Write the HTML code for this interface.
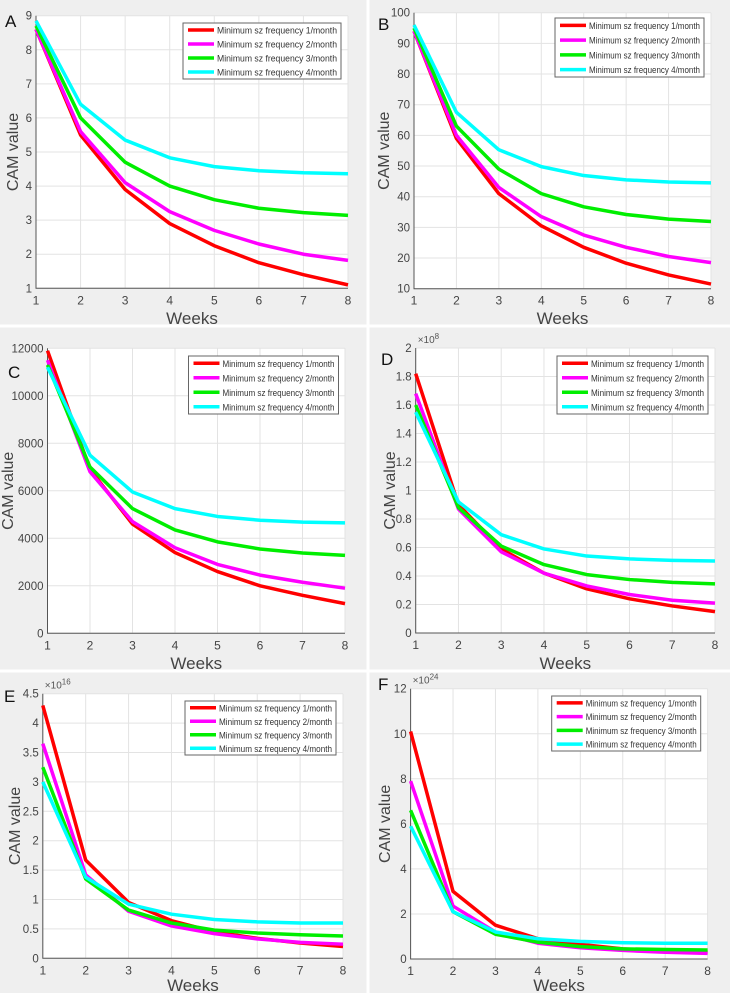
<!DOCTYPE html>
<html><head><meta charset="utf-8"><style>
body{margin:0;background:#f0f0f0;width:730px;height:993px;overflow:hidden;font-family:"Liberation Sans",sans-serif}
svg{display:block}
</style></head><body>
<svg id="fig" width="730" height="993" viewBox="0 0 730 993" xmlns="http://www.w3.org/2000/svg">
<rect x="0" y="0" width="730" height="993" fill="#efefef"/>
<line x1="0" y1="326" x2="730" y2="326" stroke="#fff" stroke-width="3"/>
<line x1="0" y1="671" x2="730" y2="671" stroke="#fff" stroke-width="3"/>
<line x1="368" y1="0" x2="368" y2="993" stroke="#fff" stroke-width="3"/>
</svg>
<script>
const weeks=[1,2,3,4,5,6,7,8];
const seriesNames=["Minimum sz frequency 1/month","Minimum sz frequency 2/month","Minimum sz frequency 3/month","Minimum sz frequency 4/month"];
const seriesColors=["#ff0000","#ff00ff","#00ee00","#00ffff"];
const aRed=[8.6,5.5,3.9,2.9,2.25,1.75,1.4,1.1];
const aMag=[8.6,5.6,4.1,3.25,2.7,2.3,2.0,1.82];
const aGreen=[8.7,6.0,4.7,4.0,3.6,3.35,3.22,3.14];
const aCyan=[8.85,6.4,5.35,4.83,4.57,4.45,4.39,4.36];
const aTicks=[1,2,3,4,5,6,7,8,9];
const bRed=[94,59,41,30.5,23.5,18.3,14.5,11.5];
const bMag=[94,60,43,33.5,27.5,23.5,20.5,18.5];
const bGreen=[95,63,49,41,36.7,34.2,32.7,31.9];
const bCyan=[96,67.5,55.3,49.8,46.9,45.5,44.8,44.5];
const bTicks=[10,20,30,40,50,60,70,80,90,100];
const cRed=[11900,6900,4600,3400,2600,2000,1600,1250];
const cMag=[11500,6800,4700,3600,2900,2450,2150,1900];
const cGreen=[11300,7000,5250,4350,3850,3550,3380,3280];
const cCyan=[11200,7500,5950,5250,4920,4760,4680,4650];
const cTicks=[0,2000,4000,6000,8000,10000,12000];
const dRed=[1.82,0.9,0.59,0.42,0.31,0.24,0.19,0.15];
const dMag=[1.68,0.87,0.57,0.42,0.33,0.27,0.23,0.21];
const dGreen=[1.60,0.88,0.61,0.48,0.41,0.375,0.355,0.345];
const dCyan=[1.55,0.92,0.69,0.59,0.54,0.52,0.51,0.505];
const dTicks=[0,0.2,0.4,0.6,0.8,1,1.2,1.4,1.6,1.8,2];
const eRed=[4.3,1.67,0.95,0.64,0.45,0.34,0.26,0.2];
const eMag=[3.65,1.42,0.8,0.55,0.42,0.33,0.27,0.24];
const eGreen=[3.25,1.35,0.82,0.6,0.48,0.43,0.4,0.38];
const eCyan=[3.0,1.38,0.92,0.75,0.66,0.62,0.6,0.6];
const eTicks=[0,0.5,1,1.5,2,2.5,3,3.5,4,4.5];
const fRed=[10.1,3.0,1.5,0.9,0.65,0.45,0.35,0.3];
const fMag=[7.9,2.35,1.2,0.7,0.5,0.38,0.3,0.25];
const fGreen=[6.6,2.1,1.1,0.75,0.55,0.45,0.42,0.4];
const fCyan=[5.9,2.1,1.2,0.9,0.78,0.72,0.7,0.7];
const fTicks=[0,2,4,6,8,10,12];

const panels=[
 {id:"a",letter:"A",series:[aRed,aMag,aGreen,aCyan],ticks:aTicks,x0:36,x1:348,yt:15.7,yb:288.3,lg:[183,23,158,56],lx:[5,27],yl:13,exp:null,wy:324},
 {id:"b",letter:"B",series:[bRed,bMag,bGreen,bCyan],ticks:bTicks,x0:414,x1:711,yt:12.7,yb:288.7,lg:[555,18,149,59],lx:[378,30],yl:384,exp:null,wy:324},
 {id:"c",letter:"C",series:[cRed,cMag,cGreen,cCyan],ticks:cTicks,x0:47.5,x1:345,yt:348.3,yb:633.3,lg:[188.5,356,150,58],lx:[8,378],yl:8,exp:null,wy:669},
 {id:"d",letter:"D",series:[dRed,dMag,dGreen,dCyan],ticks:dTicks,x0:415.7,x1:715,yt:348,yb:633,lg:[557,356,151,58],lx:[381,365],yl:390,exp:"8",wy:669},
 {id:"e",letter:"E",series:[eRed,eMag,eGreen,eCyan],ticks:eTicks,x0:42.8,x1:343,yt:693.7,yb:958.3,lg:[185,701,151,54],lx:[4,702],yl:15,exp:"16",wy:991},
 {id:"f",letter:"F",series:[fRed,fMag,fGreen,fCyan],ticks:fTicks,x0:410.6,x1:707.6,yt:688.7,yb:959,lg:[551.7,696,149,55],lx:[378,690],yl:385,exp:"24",wy:991}
];
const NS="http://www.w3.org/2000/svg";
const fig=document.getElementById("fig");
function mk(tag,attrs,parent){const e=document.createElementNS(NS,tag);for(const k in attrs)e.setAttribute(k,attrs[k]);parent.appendChild(e);return e;}
panels.forEach(p=>{
 const g=mk("g",{},fig);
 
 
 const tmin=p.ticks[0],tmax=p.ticks[p.ticks.length-1];
 const sx=v=>p.x0+(v-1)/(7)*(p.x1-p.x0);
 const sy=v=>p.yb-(v-tmin)/(tmax-tmin)*(p.yb-p.yt);
 const bg=mk("rect",{x:p.x0,y:p.yt,width:p.x1-p.x0,height:p.yb-p.yt,fill:"#fff"},g);
 
 
 weeks.forEach(w=>{
  const gl=mk("line",{x1:sx(w),x2:sx(w),y1:p.yt,y2:p.yb,stroke:"#e3e3e3","stroke-width":1},g);
  
  
  const t=mk("text",{x:sx(w),y:p.yb+16,"text-anchor":"middle","font-size":12,fill:"#444"},g);
  t.textContent=w;
  
  
 });
 p.ticks.forEach(v=>{
  const gl=mk("line",{x1:p.x0,x2:p.x1,y1:sy(v),y2:sy(v),stroke:"#e3e3e3","stroke-width":1},g);
  
  
  const t=mk("text",{x:p.x0-4,y:sy(v)+4,"text-anchor":"end","font-size":11.5,fill:"#444"},g);
  t.textContent=v;
  
  
 });
 const ax=mk("path",{d:`M${p.x0},${p.yt}V${p.yb}H${p.x1}`,fill:"none",stroke:"#555","stroke-width":1},g);
 
 
 if(p.exp){
  const t=mk("text",{x:p.x0+2,y:p.yt-5,"font-size":10,fill:"#555"},g);
  t.innerHTML=`×10<tspan dy="-4" font-size="8">${p.exp}</tspan>`;
  
  
 }
 p.series.forEach((s,i)=>{
  const pl=mk("polyline",{points:s.map((v,j)=>sx(weeks[j])+","+sy(v)).join(" "),fill:"none",stroke:seriesColors[i],"stroke-width":3.5,"stroke-linejoin":"round"},g);
  
  
 });
 const [lx,ly,lw,lh]=p.lg;
 const lg=mk("g",{},g);
 
 
 mk("rect",{x:lx,y:ly,width:lw,height:lh,fill:"#fff",stroke:"#666","stroke-width":1},lg);
 seriesNames.forEach((n,i)=>{
  const yy=ly+lh*(i+0.5)/4;
  const e=mk("g",{},lg);
  
  
  mk("line",{x1:lx+5,x2:lx+31,y1:yy,y2:yy,stroke:seriesColors[i],"stroke-width":3.5},e);
  const t=mk("text",{x:lx+34,y:yy+3.5,"font-size":9.5,fill:"#333",textLength:lw-38,lengthAdjust:"spacingAndGlyphs"},e);
  t.textContent=n;
 });
 const L=mk("text",{x:p.lx[0],y:p.lx[1],"font-size":17,fill:"#111"},g);
 L.textContent=p.letter;
 
 
 const yc=(p.yt+p.yb)/2;
 const yl=mk("text",{x:p.yl,y:yc,"font-size":16,fill:"#444","text-anchor":"middle",transform:`rotate(-90 ${p.yl} ${yc})`,dy:"5"},g);
 yl.textContent="CAM value";
 
 
 const wl=mk("text",{x:(p.x0+p.x1)/2,y:p.wy,"font-size":17,fill:"#444","text-anchor":"middle"},g);
 wl.textContent="Weeks";
 
 
});
</script>
</body></html>
